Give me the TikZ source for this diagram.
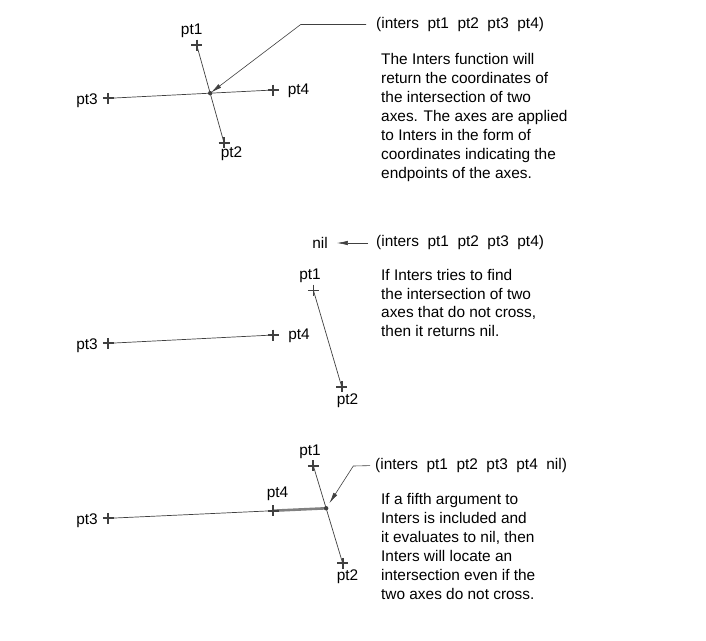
\documentclass[tikz,border=0pt]{standalone}
\usepackage{fontspec}
\setmainfont{Liberation Sans}
\usetikzlibrary{arrows.meta,positioning}

\tikzset{
  axisline/.style={draw=black!75, line width=0.7pt},
  leader/.style={draw=black!75, line width=0.6pt, -{Latex[length=11pt,width=4.5pt]}},
  lbl/.style={inner sep=0pt, font=\fontsize{15.4}{19}\selectfont},
  txt/.style={inner sep=0pt, align=left, font=\fontsize{15.4}{19}\selectfont},
  crs/.pic={\draw[draw=black!75, line width=2pt] (-5.5,0) -- (5.5,0) (0,-5.5) -- (0,5.5);},
  thincrs/.pic={\draw[draw=black!75, line width=0.9pt] (-5.5,0) -- (5.5,0) (0,-5.5) -- (0,5.5);}
}

\begin{document}
\begin{tikzpicture}[x=1pt,y=-1pt]
  \path[fill=white] (0,0) rectangle (706,640);
  \useasboundingbox (0,0) rectangle (706,640);

  % first case: the axes cross
  \coordinate (a1) at (196.7,45);
  \coordinate (a2) at (224,142.7);
  \coordinate (a3) at (108.3,98.3);
  \coordinate (a4) at (273.3,90);
  \coordinate (ax) at (intersection of a1--a2 and a3--a4);
  \draw[axisline] (a1) -- (a2);
  \draw[axisline] (a3) -- (a4);
  \foreach \p in {a1,a2,a3,a4} \pic at (\p) {crs};
  \fill[black!75] (ax) circle (2.2);
  \node[lbl] (la1) at (191.7,31) {pt1};
  \node[lbl] (la2) at (231.5,154) {pt2};
  \node[lbl] (la3) at (87,101) {pt3};
  \node[lbl] (la4) at (298.5,91) {pt4};
  \node[txt, anchor=west] (head1) at (376,24.5) {(inters\ \ pt1\ \ pt2\ \ pt3\ \ pt4)};
  \coordinate (bend1) at (300.7,24.5);
  \draw[leader, shorten <=10pt, shorten >=1pt] (head1.west) -- (bend1) -- (ax);
  \node[txt, anchor=base west] (text1) at (381,178.5) {The Inters function will\\
    return the coordinates of\\the intersection of two\\
    axes. The axes are applied\\to Inters in the form of\\
    coordinates indicating the\\endpoints of the axes.};

  % second case: the axes do not cross
  \coordinate (b1) at (313.3,290);
  \coordinate (b2) at (341.7,386.7);
  \coordinate (b3) at (108.3,343.3);
  \coordinate (b4) at (273.3,335);
  \draw[axisline] (b1) -- (b2);
  \draw[axisline] (b3) -- (b4);
  \pic at (b1) {thincrs};
  \foreach \p in {b2,b3,b4} \pic at (\p) {crs};
  \node[lbl] (lb1) at (310,275.5) {pt1};
  \node[lbl] (lb2) at (347.5,400.5) {pt2};
  \node[lbl] (lb3) at (87,346) {pt3};
  \node[lbl] (lb4) at (299,335.5) {pt4};
  \node[lbl] (nil) at (320,243) {nil};
  \node[txt, anchor=west] (head2) at (376,243) {(inters\ \ pt1\ \ pt2\ \ pt3\ \ pt4)};
  \draw[leader, shorten <=8pt, shorten >=9pt] (head2.west) -- (nil.east);
  \node[txt, anchor=base west, font=\fontsize{15.4}{18.5}\selectfont] (text2) at (381,336)
    {If Inters tries to find\\the intersection of two\\
    axes that do not cross,\\then it returns nil.};

  % third case: fifth argument nil
  \coordinate (c1) at (313.3,465.7);
  \coordinate (c2) at (342.7,563.3);
  \coordinate (c3) at (108.3,518.3);
  \coordinate (c4) at (273.3,510.7);
  \coordinate (cx) at (intersection of c1--c2 and c3--c4);
  \draw[draw=black!50, line width=2.6pt] (c4) -- (cx);
  \draw[axisline] (c1) -- (c2);
  \draw[axisline] (c3) -- (c4);
  \foreach \p in {c1,c2,c3,c4} \pic at (\p) {crs};
  \fill[black!75] (cx) circle (2.2);
  \node[lbl] (lc1) at (310,451.7) {pt1};
  \node[lbl] (lc2) at (347.5,576.7) {pt2};
  \node[lbl] (lc3) at (87,521) {pt3};
  \node[lbl] (lc4) at (277.5,493.3) {pt4};
  \node[txt, anchor=west] (head3) at (375,465.5) {(inters\ \ pt1\ \ pt2\ \ pt3\ \ pt4\ \ nil)};
  \coordinate (bend3) at (353.3,466);
  \draw[leader, shorten <=5pt, shorten >=6pt] (head3.west) -- (bend3) -- (cx);
  \node[txt, anchor=base west] (text3) at (381,599) {If a fifth argument to\\
    Inters is included and\\it evaluates to nil, then\\Inters will locate an\\
    intersection even if the\\two axes do not cross.};
\end{tikzpicture}
\end{document}
